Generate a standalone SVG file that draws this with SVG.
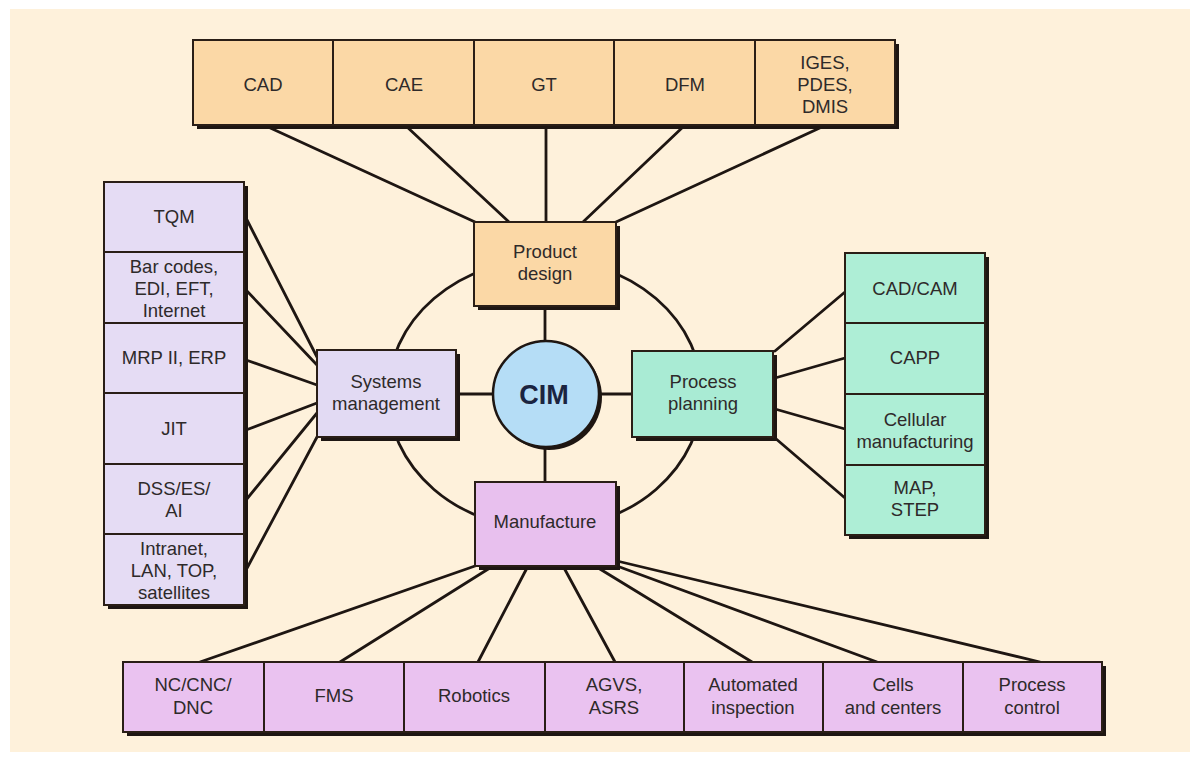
<svg xmlns="http://www.w3.org/2000/svg" width="1199" height="763" viewBox="0 0 1199 763">
<style>
.bx{stroke:#2a1e16;stroke-width:2}
.sh{fill:#1e1612}
.t{font-family:"Liberation Sans",Arial,sans-serif;font-size:18.5px;fill:#2e2a2a;text-anchor:middle}
.cn{stroke:#1e1612;stroke-width:2.8;fill:none;stroke-linecap:round}
.or{fill:#fbd8a6}
.lv{fill:#e5dcf4}
.mt{fill:#aeeed6}
.pk{fill:#eac2f0}
</style>
<rect x="0" y="0" width="1199" height="763" fill="#ffffff"/>
<rect x="10" y="9" width="1180" height="743" fill="#fef1db"/>
<g id="connectors">
<ellipse class="cn" cx="545" cy="394" rx="157" ry="135"/>
<line class="cn" x1="266" y1="126" x2="475" y2="222"/>
<line class="cn" x1="406" y1="126" x2="509" y2="222"/>
<line class="cn" x1="546" y1="126" x2="546" y2="222"/>
<line class="cn" x1="684" y1="126" x2="583" y2="222"/>
<line class="cn" x1="824" y1="126" x2="616" y2="222"/>
<line class="cn" x1="545" y1="306" x2="545" y2="342"/>
<line class="cn" x1="456" y1="394" x2="493" y2="394"/>
<line class="cn" x1="599" y1="394" x2="632" y2="394"/>
<line class="cn" x1="545" y1="447" x2="545" y2="482"/>
<line class="cn" x1="246" y1="218" x2="317" y2="357"/>
<line class="cn" x1="246" y1="290" x2="317" y2="365"/>
<line class="cn" x1="246" y1="360" x2="317" y2="385"/>
<line class="cn" x1="246" y1="430" x2="317" y2="403"/>
<line class="cn" x1="246" y1="500" x2="317" y2="413"/>
<line class="cn" x1="246" y1="570" x2="317" y2="437"/>
<line class="cn" x1="775" y1="351" x2="845" y2="292"/>
<line class="cn" x1="775" y1="378" x2="845" y2="358"/>
<line class="cn" x1="775" y1="409" x2="845" y2="429"/>
<line class="cn" x1="775" y1="438" x2="845" y2="498"/>
<line class="cn" x1="475" y1="566" x2="200" y2="662"/>
<line class="cn" x1="493" y1="566" x2="340" y2="662"/>
<line class="cn" x1="528" y1="566" x2="478" y2="662"/>
<line class="cn" x1="563" y1="566" x2="615" y2="662"/>
<line class="cn" x1="595" y1="566" x2="752" y2="662"/>
<line class="cn" x1="617" y1="566" x2="877" y2="662"/>
<line class="cn" x1="617" y1="561" x2="1040" y2="662"/>
</g>
<g id="top-row">
<rect class="sh" x="197" y="44" width="702" height="85"/>
<g id="cad"><rect class="bx or" x="193" y="40" width="140" height="85"/><text class="t" x="263" y="91">CAD</text></g>
<g id="cae"><rect class="bx or" x="333" y="40" width="141" height="85"/><text class="t" x="404" y="91">CAE</text></g>
<g id="gt"><rect class="bx or" x="474" y="40" width="140" height="85"/><text class="t" x="544" y="91">GT</text></g>
<g id="dfm"><rect class="bx or" x="614" y="40" width="141" height="85"/><text class="t" x="685" y="91">DFM</text></g>
<g id="iges"><rect class="bx or" x="755" y="40" width="140" height="85"/><text class="t" x="825" y="69">IGES,</text><text class="t" x="825" y="91">PDES,</text><text class="t" x="825" y="113">DMIS</text></g>
</g>
<g id="left-col">
<rect class="sh" x="108" y="186" width="140" height="423"/>
<g id="tqm"><rect class="bx lv" x="104" y="182" width="140" height="70"/><text class="t" x="174" y="223">TQM</text></g>
<g id="barcodes"><rect class="bx lv" x="104" y="252" width="140" height="71"/><text class="t" x="174" y="273">Bar codes,</text><text class="t" x="174" y="295">EDI, EFT,</text><text class="t" x="174" y="317">Internet</text></g>
<g id="mrp"><rect class="bx lv" x="104" y="323" width="140" height="70"/><text class="t" x="174" y="364">MRP II, ERP</text></g>
<g id="jit"><rect class="bx lv" x="104" y="393" width="140" height="71"/><text class="t" x="174" y="435">JIT</text></g>
<g id="dss"><rect class="bx lv" x="104" y="464" width="140" height="70"/><text class="t" x="174" y="495">DSS/ES/</text><text class="t" x="174" y="517">AI</text></g>
<g id="intranet"><rect class="bx lv" x="104" y="534" width="140" height="71"/><text class="t" x="174" y="555">Intranet,</text><text class="t" x="174" y="577">LAN, TOP,</text><text class="t" x="174" y="599">satellites</text></g>
</g>
<g id="right-col">
<rect class="sh" x="849" y="257" width="140" height="282"/>
<g id="cadcam"><rect class="bx mt" x="845" y="253" width="140" height="70"/><text class="t" x="915" y="295">CAD/CAM</text></g>
<g id="capp"><rect class="bx mt" x="845" y="323" width="140" height="71"/><text class="t" x="915" y="364">CAPP</text></g>
<g id="cellular"><rect class="bx mt" x="845" y="394" width="140" height="71"/><text class="t" x="915" y="426">Cellular</text><text class="t" x="915" y="448">manufacturing</text></g>
<g id="map"><rect class="bx mt" x="845" y="465" width="140" height="70"/><text class="t" x="915" y="494">MAP,</text><text class="t" x="915" y="516">STEP</text></g>
</g>
<g id="bottom-row">
<rect class="sh" x="127" y="666" width="979" height="70"/>
<g id="nc"><rect class="bx pk" x="123" y="662" width="141" height="70"/><text class="t" x="193" y="691">NC/CNC/</text><text class="t" x="193" y="714">DNC</text></g>
<g id="fms"><rect class="bx pk" x="264" y="662" width="140" height="70"/><text class="t" x="334" y="702">FMS</text></g>
<g id="robotics"><rect class="bx pk" x="404" y="662" width="141" height="70"/><text class="t" x="474" y="702">Robotics</text></g>
<g id="agvs"><rect class="bx pk" x="545" y="662" width="139" height="70"/><text class="t" x="614" y="691">AGVS,</text><text class="t" x="614" y="714">ASRS</text></g>
<g id="inspection"><rect class="bx pk" x="684" y="662" width="139" height="70"/><text class="t" x="753" y="691">Automated</text><text class="t" x="753" y="714">inspection</text></g>
<g id="cells"><rect class="bx pk" x="823" y="662" width="140" height="70"/><text class="t" x="893" y="691">Cells</text><text class="t" x="893" y="714">and centers</text></g>
<g id="processcontrol"><rect class="bx pk" x="963" y="662" width="139" height="70"/><text class="t" x="1032" y="691">Process</text><text class="t" x="1032" y="714">control</text></g>
</g>
<g id="product-design">
<rect class="sh" x="478" y="226" width="142" height="84"/>
<rect class="bx or" x="474" y="222" width="142" height="84"/>
<text class="t" x="545" y="258">Product</text><text class="t" x="545" y="280">design</text>
</g>
<g id="systems-management">
<rect class="sh" x="321" y="354" width="139" height="87"/>
<rect class="bx" fill="#e2daf3" x="317" y="350" width="139" height="87"/>
<text class="t" x="386" y="388">Systems</text><text class="t" x="386" y="410">management</text>
</g>
<g id="process-planning">
<rect class="sh" x="636" y="355" width="141" height="86"/>
<rect class="bx" fill="#a9ebd4" x="632" y="351" width="141" height="86"/>
<text class="t" x="703" y="388">Process</text><text class="t" x="703" y="410">planning</text>
</g>
<g id="manufacture">
<rect class="sh" x="479" y="486" width="141" height="84"/>
<rect class="bx" fill="#e8c0ee" x="475" y="482" width="141" height="84"/>
<text class="t" x="545" y="528">Manufacture</text>
</g>
<g id="cim">
<circle cx="549" cy="397" r="53" fill="#1e1612"/>
<circle cx="546" cy="394" r="53" fill="#b5ddf6" stroke="#1e1612" stroke-width="2.5"/>
<text x="544" y="404" font-family="'Liberation Sans',Arial,sans-serif" font-size="27" font-weight="bold" fill="#1b2440" text-anchor="middle">CIM</text>
</g>
</svg>
